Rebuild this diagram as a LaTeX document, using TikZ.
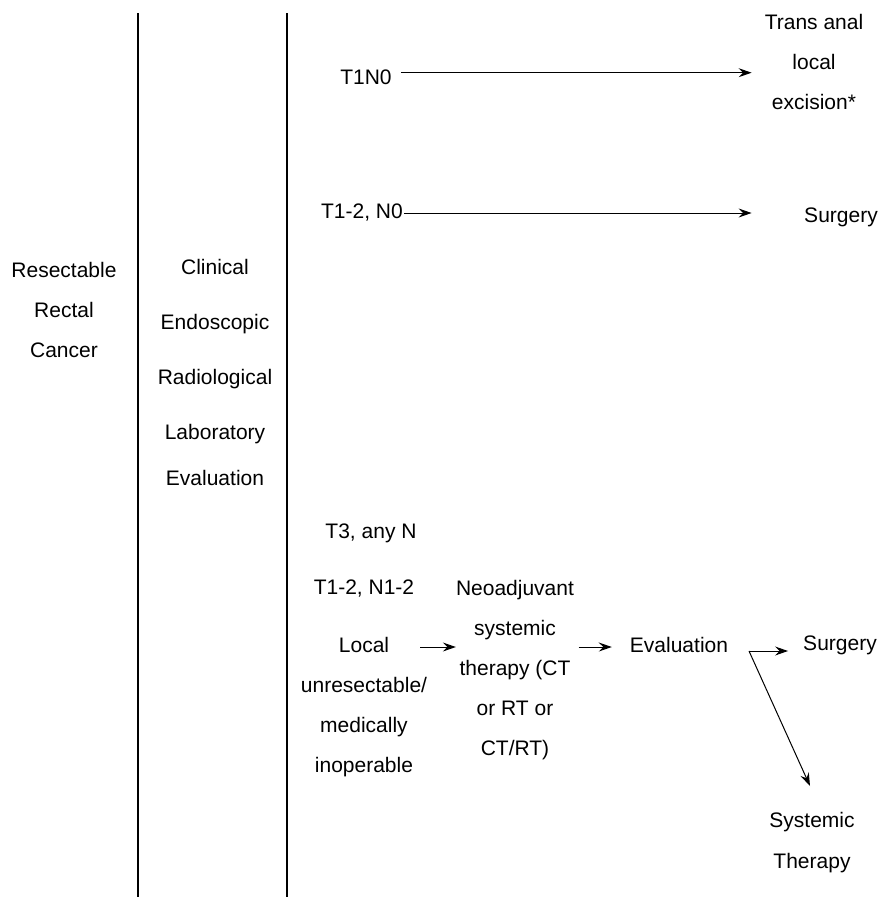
\documentclass[tikz,border=0pt]{standalone}
\usepackage{fontspec}
\setmainfont{Liberation Sans}
\usetikzlibrary{arrows.meta}

\begin{document}
\begin{tikzpicture}[x=1pt,y=-1pt,
  txt/.style={align=center,inner sep=1pt,font=\fontsize{21}{40}\selectfont},
  arr/.style={line width=1pt,-{Stealth[length=13pt,width=9pt,inset=4.5pt]}}]
\useasboundingbox (0,0) rectangle (881,897);
% the two rules between the columns
\coordinate (r1top) at (138,13);
\coordinate (r1bot) at (138,897);
\coordinate (r2top) at (287,13);
\coordinate (r2bot) at (287,897);
\draw[line width=1.3pt] (r1top) -- (r1bot);
\draw[line width=1.3pt] (r2top) -- (r2bot);
% first two columns
\node[txt] (cancer) at (64,310) {Resectable\\Rectal\\Cancer};
\node[txt,font=\fontsize{21}{55}\selectfont] (workup) at (215,372.5)
  {Clinical\\Endoscopic\\Radiological\\Laboratory\\[-9pt]Evaluation};
% early stages
\node[txt] (t1n0) at (366,77) {T1N0};
\node[txt] (tae) at (814,62) {Trans anal\\local\\excision*};
\node[txt] (t12n0) at (362,213) {T1-2, N0};
\node[txt] (surg1) at (841,217) {Surgery};
\coordinate (t1n0out) at ([yshift=4.3pt]t1n0.east);
\draw[arr,shorten <=8pt,shorten >=12pt] (t1n0out) -- (tae.west |- t1n0out);
\draw[arr,shorten >=12pt] (t12n0.east) -- (tae.west |- t12n0.east);
% advanced stages
\node[txt] (t3) at (371,533) {T3, any N};
\node[txt] (t12n12) at (364,589) {T1-2, N1-2};
\node[txt] (local) at (364,707.5) {Local\\unresectable/\\medically\\inoperable};
\node[txt] (neo) at (515,670.5) {Neoadjuvant\\systemic\\therapy (CT\\or RT or\\CT/RT)};
\node[txt] (eval) at (679,645) {Evaluation};
\node[txt] (surg2) at (840,645) {Surgery};
\node[txt,font=\fontsize{21}{41}\selectfont] (syst) at (812,842.5) {Systemic\\Therapy};
\draw[arr] ([xshift=-8pt]local.east |- 0,647) -- ([xshift=1pt]neo.west |- 0,647);
\draw[arr,shorten <=3.5pt,shorten >=17pt] (neo.east |- 0,647) -- (eval.west |- 0,647);
\coordinate (fork) at (749,651);
\coordinate (systin) at (810,786);
\draw[arr,shorten >=14pt] (fork) -- (surg2.west |- fork);
\draw[arr] (fork) -- (systin);
\end{tikzpicture}
\end{document}
